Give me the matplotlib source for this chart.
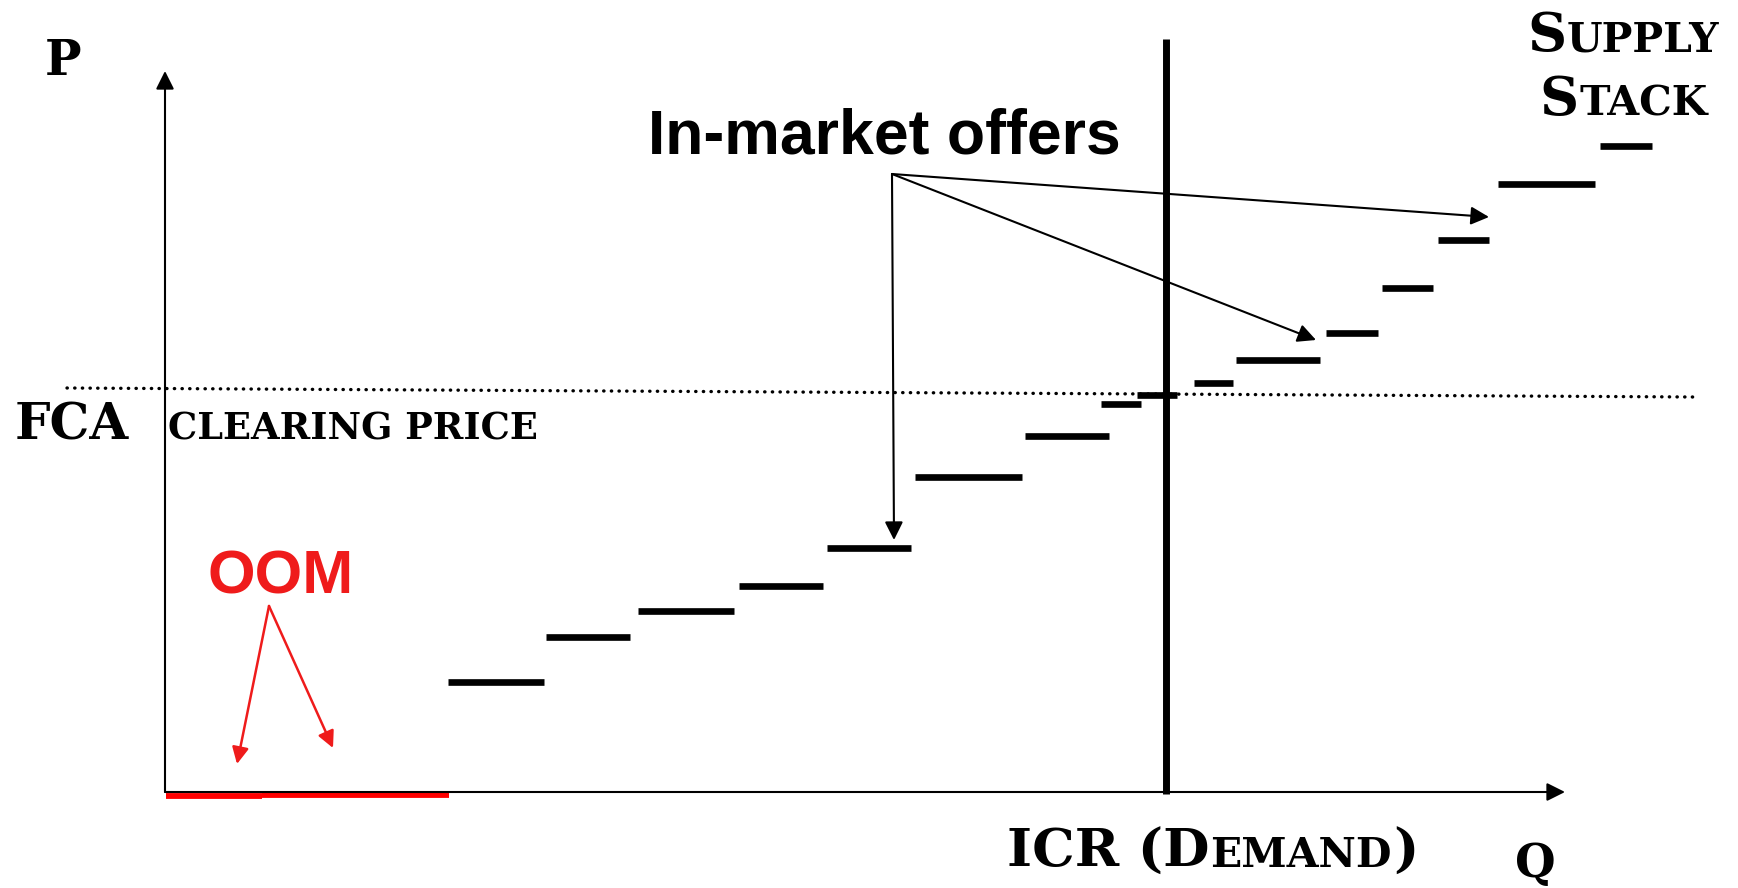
import matplotlib
matplotlib.use("Agg")
import matplotlib.pyplot as plt
from matplotlib.transforms import offset_copy

# ----------------------------
# DATA (Q and P in chart units, origin at the axes corner)
# ----------------------------
step_q_start = [28.3, 38.1, 47.3, 57.4, 66.2, 75.0, 86.0, 93.6, 97.2, 102.9, 107.1, 116.1, 121.7, 127.3, 133.3, 143.5]
step_q_end = [37.9, 46.5, 56.9, 65.8, 74.6, 85.7, 94.4, 97.6, 101.2, 106.8, 115.5, 121.3, 126.8, 132.4, 143.0, 148.7]
step_price = [11.0, 15.5, 18.1, 20.6, 24.4, 31.5, 35.6, 38.8, 39.7, 40.9, 43.2, 45.9, 50.4, 55.2, 60.8, 64.6]

oom_q_start = [0.1, 9.7]
oom_q_end = [9.7, 28.4]
oom_price = [-0.4, -0.25]

fca_q = [-9.8, 152.9]
fca_price = [40.4, 39.5]

icr_q = 100.1
icr_price = [-0.2, 75.3]

axis_q_max = 140.0
axis_p_max = 72.1

offers_from = (72.7, 61.8)
offers_to = [(72.9, 25.2), (115.1, 45.2), (132.4, 57.5)]

oom_from = (10.4, 18.6)
oom_to = [(7.2, 2.8), (16.8, 4.4)]

RED = "#ef1b1b"

# ----------------------------
# FIGURE
# ----------------------------
fig = plt.figure(figsize=(17.38, 8.88), dpi=100)
ax = fig.add_axes([0, 0, 1, 1])
ax.set_xlim(-16.5, 157.3)
ax.set_ylim(-9.6, 79.2)
ax.axis("off")


def arrow(start, end, color="black", lw=1.5, hl=11, hw=5.5):
    ax.annotate(
        "", xy=end, xytext=start,
        arrowprops=dict(
            arrowstyle=f"-|>,head_length={hl},head_width={hw}",
            mutation_scale=1, lw=lw, color=color,
            shrinkA=0, shrinkB=0,
        ),
    )


def caps_text(q, p, parts, color="black"):
    # fake small caps: (string, size) pieces set one after another on a baseline
    renderer = fig.canvas.get_renderer()
    dx = 0.0
    for s, size in parts:
        t = ax.text(
            q, p, s, fontsize=size, fontweight="bold", family="DejaVu Serif",
            color=color, ha="left", va="baseline",
            transform=offset_copy(ax.transData, fig=fig, x=dx, y=0, units="dots"),
        )
        dx += t.get_window_extent(renderer).width + 1


# axes with arrow heads
arrow((0, 0), (0, axis_p_max), lw=1.5)
arrow((0, 0), (axis_q_max, 0), lw=1.5)

# FCA clearing price (dotted)
ax.plot(fca_q, fca_price, color="black", lw=2.4,
        linestyle=(0, (0.1, 2.2)), dash_capstyle="round")

# demand line
ax.plot([icr_q, icr_q], icr_price, color="black", lw=5, solid_capstyle="butt")

# supply stack steps
ax.hlines(step_price, step_q_start, step_q_end, color="black", lw=4.8)

# out-of-market offers on the Q axis
ax.hlines(oom_price, oom_q_start, oom_q_end, color="#ff0000", lw=4.2)

# annotation arrows
for end in offers_to:
    arrow(offers_from, end, lw=1.5)
for end in oom_to:
    arrow(oom_from, end, color=RED, lw=1.8, hl=10, hw=5)

# ----------------------------
# TEXT
# ----------------------------
caps_text(-12.0, 71.7, [("P", 35)])
caps_text(-15.0, 35.2, [("FCA", 36)])
caps_text(0.3, 35.2, [("CLEARING PRICE", 26.5)])
caps_text(136.2, 74.0, [("S", 39), ("UPPLY", 29.5)])
caps_text(137.4, 67.6, [("S", 39), ("TACK", 29.5)])
caps_text(84.2, -7.5, [("ICR (D", 38.5), ("EMAND", 29.5), (")", 38.5)])
caps_text(135.0, -8.5, [("Q", 33.5)])

ax.text(48.3, 63.8, "In-market offers", fontsize=45, fontweight="bold",
        family="Liberation Sans", ha="left", va="baseline")
ax.text(4.2, 19.9, "OOM", fontsize=44, fontweight="bold",
        family="Liberation Sans", color=RED, ha="left", va="baseline")

plt.savefig("out.png", dpi=100)
